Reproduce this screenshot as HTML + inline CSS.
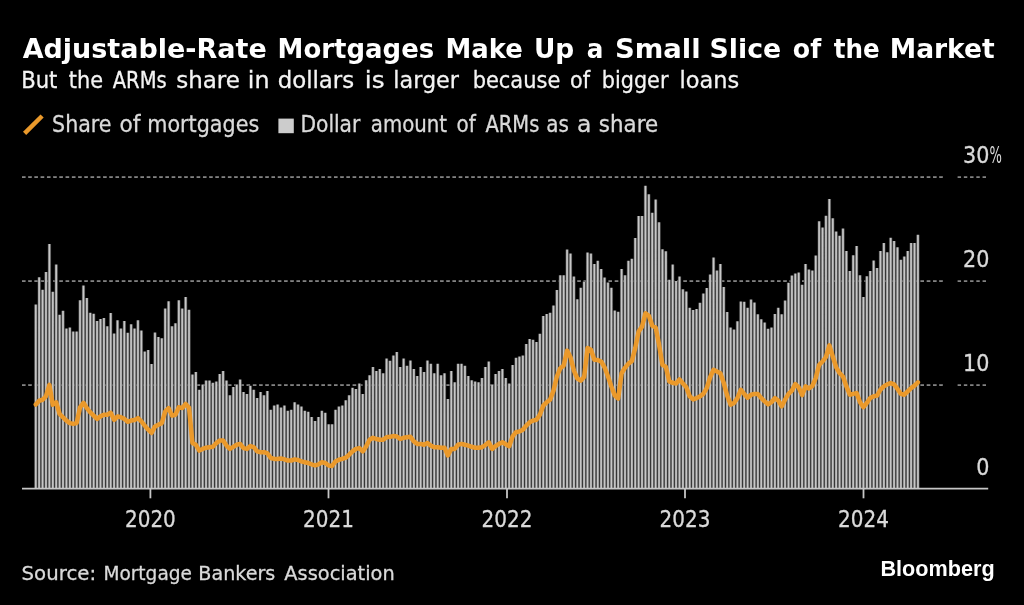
<!DOCTYPE html>
<html><head><meta charset="utf-8"><title>Adjustable-Rate Mortgages Make Up a Small Slice of the Market</title>
<style>
html,body{margin:0;padding:0;background:#000;}
body{width:1024px;height:605px;position:relative;overflow:hidden;}
svg{position:absolute;left:0;top:0;display:block;}
text{white-space:pre;}
.soft{display:none;isolation:isolate;}
.soft use{mix-blend-mode:plus-lighter;}
@supports (mix-blend-mode:plus-lighter){.plain{display:none;}.soft{display:inline;}}
</style></head><body>
<svg width="1024" height="605" viewBox="0 0 1024 605">
<line x1="22" x2="943.5" y1="177.05" y2="177.05" stroke="#838383" stroke-width="1.7" stroke-dasharray="3.44 2.8"/>
<line x1="957.6" x2="987" y1="177.05" y2="177.05" stroke="#838383" stroke-width="1.7" stroke-dasharray="3.44 2.8"/>
<line x1="22" x2="943.5" y1="281.05" y2="281.05" stroke="#838383" stroke-width="1.7" stroke-dasharray="3.44 2.8"/>
<line x1="957.6" x2="987" y1="281.05" y2="281.05" stroke="#838383" stroke-width="1.7" stroke-dasharray="3.44 2.8"/>
<line x1="22" x2="943.5" y1="385.05" y2="385.05" stroke="#838383" stroke-width="1.7" stroke-dasharray="3.44 2.8"/>
<line x1="957.6" x2="987" y1="385.05" y2="385.05" stroke="#838383" stroke-width="1.7" stroke-dasharray="3.44 2.8"/>
<defs><path id="bars" d="M34.62 488.6V304.5h2.3V488.6zM38.03 488.6V277.3h2.3V488.6zM41.43 488.6V289.8h2.3V488.6zM44.84 488.6V272.0h2.3V488.6zM48.24 488.6V244.1h2.3V488.6zM51.65 488.6V291.8h2.3V488.6zM55.06 488.6V264.6h2.3V488.6zM58.46 488.6V314.8h2.3V488.6zM61.87 488.6V310.7h2.3V488.6zM65.27 488.6V328.5h2.3V488.6zM68.68 488.6V327.4h2.3V488.6zM72.09 488.6V331.5h2.3V488.6zM75.49 488.6V331.5h2.3V488.6zM78.90 488.6V300.3h2.3V488.6zM82.30 488.6V285.6h2.3V488.6zM85.71 488.6V298.0h2.3V488.6zM89.12 488.6V312.8h2.3V488.6zM92.52 488.6V313.8h2.3V488.6zM95.93 488.6V321.0h2.3V488.6zM99.33 488.6V319.0h2.3V488.6zM102.74 488.6V317.9h2.3V488.6zM106.15 488.6V326.2h2.3V488.6zM109.55 488.6V312.9h2.3V488.6zM112.96 488.6V333.5h2.3V488.6zM116.36 488.6V320.2h2.3V488.6zM119.77 488.6V328.5h2.3V488.6zM123.18 488.6V321.0h2.3V488.6zM126.58 488.6V332.7h2.3V488.6zM129.99 488.6V324.2h2.3V488.6zM133.39 488.6V328.5h2.3V488.6zM136.80 488.6V320.2h2.3V488.6zM140.21 488.6V330.4h2.3V488.6zM143.61 488.6V351.5h2.3V488.6zM147.02 488.6V350.1h2.3V488.6zM150.42 488.6V363.9h2.3V488.6zM153.83 488.6V332.5h2.3V488.6zM157.24 488.6V337.0h2.3V488.6zM160.64 488.6V338.2h2.3V488.6zM164.05 488.6V308.6h2.3V488.6zM167.45 488.6V301.3h2.3V488.6zM170.86 488.6V326.2h2.3V488.6zM174.27 488.6V323.2h2.3V488.6zM177.67 488.6V300.3h2.3V488.6zM181.08 488.6V308.6h2.3V488.6zM184.48 488.6V297.1h2.3V488.6zM187.89 488.6V309.8h2.3V488.6zM191.30 488.6V374.4h2.3V488.6zM194.70 488.6V372.1h2.3V488.6zM198.11 488.6V389.8h2.3V488.6zM201.51 488.6V384.5h2.3V488.6zM204.92 488.6V380.4h2.3V488.6zM208.33 488.6V380.4h2.3V488.6zM211.73 488.6V382.7h2.3V488.6zM215.14 488.6V381.5h2.3V488.6zM218.54 488.6V374.1h2.3V488.6zM221.95 488.6V371.1h2.3V488.6zM225.36 488.6V380.4h2.3V488.6zM228.76 488.6V395.2h2.3V488.6zM232.17 488.6V386.9h2.3V488.6zM235.57 488.6V384.5h2.3V488.6zM238.98 488.6V379.4h2.3V488.6zM242.39 488.6V392.0h2.3V488.6zM245.79 488.6V394.0h2.3V488.6zM249.20 488.6V385.7h2.3V488.6zM252.60 488.6V389.8h2.3V488.6zM256.01 488.6V398.1h2.3V488.6zM259.42 488.6V392.0h2.3V488.6zM262.82 488.6V395.2h2.3V488.6zM266.23 488.6V391.0h2.3V488.6zM269.63 488.6V409.8h2.3V488.6zM273.04 488.6V405.6h2.3V488.6zM276.45 488.6V404.4h2.3V488.6zM279.85 488.6V407.6h2.3V488.6zM283.26 488.6V405.6h2.3V488.6zM286.66 488.6V410.8h2.3V488.6zM290.07 488.6V409.8h2.3V488.6zM293.48 488.6V402.3h2.3V488.6zM296.88 488.6V404.4h2.3V488.6zM300.29 488.6V406.6h2.3V488.6zM303.69 488.6V410.8h2.3V488.6zM307.10 488.6V411.8h2.3V488.6zM310.51 488.6V416.9h2.3V488.6zM313.91 488.6V421.0h2.3V488.6zM317.32 488.6V416.9h2.3V488.6zM320.72 488.6V410.8h2.3V488.6zM324.13 488.6V412.7h2.3V488.6zM327.54 488.6V424.2h2.3V488.6zM330.94 488.6V424.2h2.3V488.6zM334.35 488.6V409.8h2.3V488.6zM337.75 488.6V406.6h2.3V488.6zM341.16 488.6V405.6h2.3V488.6zM344.57 488.6V400.3h2.3V488.6zM347.97 488.6V395.2h2.3V488.6zM351.38 488.6V387.8h2.3V488.6zM354.78 488.6V388.9h2.3V488.6zM358.19 488.6V383.6h2.3V488.6zM361.60 488.6V393.9h2.3V488.6zM365.00 488.6V380.3h2.3V488.6zM368.41 488.6V375.2h2.3V488.6zM371.81 488.6V366.9h2.3V488.6zM375.22 488.6V371.0h2.3V488.6zM378.63 488.6V369.0h2.3V488.6zM382.03 488.6V373.2h2.3V488.6zM385.44 488.6V358.6h2.3V488.6zM388.84 488.6V360.7h2.3V488.6zM392.25 488.6V355.4h2.3V488.6zM395.66 488.6V352.1h2.3V488.6zM399.06 488.6V366.9h2.3V488.6zM402.47 488.6V358.6h2.3V488.6zM405.87 488.6V365.7h2.3V488.6zM409.28 488.6V360.4h2.3V488.6zM412.69 488.6V369.0h2.3V488.6zM416.09 488.6V376.1h2.3V488.6zM419.50 488.6V366.9h2.3V488.6zM422.90 488.6V372.0h2.3V488.6zM426.31 488.6V360.4h2.3V488.6zM429.72 488.6V363.7h2.3V488.6zM433.12 488.6V373.2h2.3V488.6zM436.53 488.6V363.7h2.3V488.6zM439.93 488.6V375.2h2.3V488.6zM443.34 488.6V373.2h2.3V488.6zM446.75 488.6V398.9h2.3V488.6zM450.15 488.6V371.0h2.3V488.6zM453.56 488.6V382.3h2.3V488.6zM456.96 488.6V363.7h2.3V488.6zM460.37 488.6V363.7h2.3V488.6zM463.78 488.6V365.7h2.3V488.6zM467.18 488.6V376.1h2.3V488.6zM470.59 488.6V380.3h2.3V488.6zM473.99 488.6V381.5h2.3V488.6zM477.40 488.6V382.3h2.3V488.6zM480.81 488.6V378.1h2.3V488.6zM484.21 488.6V366.9h2.3V488.6zM487.62 488.6V361.5h2.3V488.6zM491.02 488.6V384.4h2.3V488.6zM494.43 488.6V374.0h2.3V488.6zM497.84 488.6V371.0h2.3V488.6zM501.24 488.6V369.0h2.3V488.6zM504.65 488.6V378.1h2.3V488.6zM508.05 488.6V383.5h2.3V488.6zM511.46 488.6V365.1h2.3V488.6zM514.87 488.6V357.8h2.3V488.6zM518.27 488.6V356.6h2.3V488.6zM521.68 488.6V355.6h2.3V488.6zM525.08 488.6V344.0h2.3V488.6zM528.49 488.6V339.0h2.3V488.6zM531.90 488.6V339.8h2.3V488.6zM535.30 488.6V342.0h2.3V488.6zM538.71 488.6V333.7h2.3V488.6zM542.11 488.6V316.1h2.3V488.6zM545.52 488.6V314.0h2.3V488.6zM548.93 488.6V312.8h2.3V488.6zM552.33 488.6V305.5h2.3V488.6zM555.74 488.6V290.1h2.3V488.6zM559.14 488.6V275.3h2.3V488.6zM562.55 488.6V275.3h2.3V488.6zM565.96 488.6V249.4h2.3V488.6zM569.36 488.6V253.6h2.3V488.6zM572.77 488.6V276.5h2.3V488.6zM576.17 488.6V299.2h2.3V488.6zM579.58 488.6V287.7h2.3V488.6zM582.99 488.6V281.6h2.3V488.6zM586.39 488.6V252.4h2.3V488.6zM589.80 488.6V253.6h2.3V488.6zM593.20 488.6V264.0h2.3V488.6zM596.61 488.6V260.7h2.3V488.6zM600.02 488.6V269.0h2.3V488.6zM603.42 488.6V277.5h2.3V488.6zM606.83 488.6V282.6h2.3V488.6zM610.23 488.6V287.7h2.3V488.6zM613.64 488.6V310.6h2.3V488.6zM617.05 488.6V311.7h2.3V488.6zM620.45 488.6V269.0h2.3V488.6zM623.86 488.6V275.3h2.3V488.6zM627.26 488.6V260.7h2.3V488.6zM630.67 488.6V258.7h2.3V488.6zM634.08 488.6V237.9h2.3V488.6zM637.48 488.6V216.0h2.3V488.6zM640.89 488.6V216.0h2.3V488.6zM644.29 488.6V185.8h2.3V488.6zM647.70 488.6V194.2h2.3V488.6zM651.11 488.6V212.8h2.3V488.6zM654.51 488.6V199.4h2.3V488.6zM657.92 488.6V222.3h2.3V488.6zM661.32 488.6V249.3h2.3V488.6zM664.73 488.6V251.3h2.3V488.6zM668.14 488.6V279.8h2.3V488.6zM671.54 488.6V264.6h2.3V488.6zM674.95 488.6V281.0h2.3V488.6zM678.35 488.6V276.5h2.3V488.6zM681.76 488.6V289.3h2.3V488.6zM685.17 488.6V291.5h2.3V488.6zM688.57 488.6V307.7h2.3V488.6zM691.98 488.6V310.0h2.3V488.6zM695.38 488.6V308.9h2.3V488.6zM698.79 488.6V302.7h2.3V488.6zM702.20 488.6V293.5h2.3V488.6zM705.60 488.6V288.1h2.3V488.6zM709.01 488.6V274.5h2.3V488.6zM712.41 488.6V257.4h2.3V488.6zM715.82 488.6V270.4h2.3V488.6zM719.23 488.6V264.1h2.3V488.6zM722.63 488.6V287.0h2.3V488.6zM726.04 488.6V311.9h2.3V488.6zM729.44 488.6V327.5h2.3V488.6zM732.85 488.6V329.6h2.3V488.6zM736.26 488.6V321.3h2.3V488.6zM739.66 488.6V301.4h2.3V488.6zM743.07 488.6V301.8h2.3V488.6zM746.47 488.6V307.7h2.3V488.6zM749.88 488.6V299.4h2.3V488.6zM753.29 488.6V302.6h2.3V488.6zM756.69 488.6V314.2h2.3V488.6zM760.10 488.6V319.3h2.3V488.6zM763.50 488.6V322.5h2.3V488.6zM766.91 488.6V328.8h2.3V488.6zM770.32 488.6V327.6h2.3V488.6zM773.72 488.6V313.9h2.3V488.6zM777.13 488.6V307.7h2.3V488.6zM780.53 488.6V314.2h2.3V488.6zM783.94 488.6V300.6h2.3V488.6zM787.35 488.6V282.8h2.3V488.6zM790.75 488.6V275.4h2.3V488.6zM794.16 488.6V273.5h2.3V488.6zM797.56 488.6V272.4h2.3V488.6zM800.97 488.6V284.8h2.3V488.6zM804.38 488.6V264.1h2.3V488.6zM807.78 488.6V269.4h2.3V488.6zM811.19 488.6V270.4h2.3V488.6zM814.59 488.6V255.4h2.3V488.6zM818.00 488.6V221.2h2.3V488.6zM821.41 488.6V227.4h2.3V488.6zM824.81 488.6V215.7h2.3V488.6zM828.22 488.6V199.1h2.3V488.6zM831.62 488.6V218.2h2.3V488.6zM835.03 488.6V231.5h2.3V488.6zM838.44 488.6V235.7h2.3V488.6zM841.84 488.6V228.5h2.3V488.6zM845.25 488.6V251.1h2.3V488.6zM848.65 488.6V271.0h2.3V488.6zM852.06 488.6V255.2h2.3V488.6zM855.47 488.6V246.1h2.3V488.6zM858.87 488.6V275.2h2.3V488.6zM862.28 488.6V296.9h2.3V488.6zM865.68 488.6V276.3h2.3V488.6zM869.09 488.6V271.0h2.3V488.6zM872.50 488.6V260.6h2.3V488.6zM875.90 488.6V268.0h2.3V488.6zM879.31 488.6V251.1h2.3V488.6zM882.71 488.6V243.1h2.3V488.6zM886.12 488.6V252.3h2.3V488.6zM889.53 488.6V237.8h2.3V488.6zM892.93 488.6V241.0h2.3V488.6zM896.34 488.6V247.3h2.3V488.6zM899.74 488.6V259.7h2.3V488.6zM903.15 488.6V256.4h2.3V488.6zM906.56 488.6V251.1h2.3V488.6zM909.96 488.6V243.1h2.3V488.6zM913.37 488.6V243.1h2.3V488.6zM916.77 488.6V234.7h2.3V488.6z"/></defs>
<use class="plain" href="#bars" fill="#c4c4c4"/>
<g class="soft">
<use href="#bars" x="-0.860" fill="rgb(11,11,11)"/>
<use href="#bars" x="-0.430" fill="rgb(50,50,50)"/>
<use href="#bars" x="0.000" fill="rgb(83,83,83)"/>
<use href="#bars" x="0.430" fill="rgb(50,50,50)"/>
<use href="#bars" x="0.860" fill="rgb(11,11,11)"/>
</g>
<line x1="22" x2="943.5" y1="177.05" y2="177.05" stroke="#6a6a6a" stroke-width="1.7" stroke-dasharray="3.44 2.8" style="mix-blend-mode:lighten"/>
<line x1="22" x2="943.5" y1="281.05" y2="281.05" stroke="#6a6a6a" stroke-width="1.7" stroke-dasharray="3.44 2.8" style="mix-blend-mode:lighten"/>
<line x1="22" x2="943.5" y1="385.05" y2="385.05" stroke="#6a6a6a" stroke-width="1.7" stroke-dasharray="3.44 2.8" style="mix-blend-mode:lighten"/>
<line x1="22" x2="988.2" y1="488.70000000000005" y2="488.70000000000005" stroke="#c6c6c6" stroke-width="1.8"/>
<line x1="150.4" x2="150.4" y1="488.6" y2="498.3" stroke="#c6c6c6" stroke-width="1.8"/>
<line x1="328.5" x2="328.5" y1="488.6" y2="498.3" stroke="#c6c6c6" stroke-width="1.8"/>
<line x1="507" x2="507" y1="488.6" y2="498.3" stroke="#c6c6c6" stroke-width="1.8"/>
<line x1="685" x2="685" y1="488.6" y2="498.3" stroke="#c6c6c6" stroke-width="1.8"/>
<line x1="863.5" x2="863.5" y1="488.6" y2="498.3" stroke="#c6c6c6" stroke-width="1.8"/>
<polyline points="35.77,404.5 39.18,400.7 42.58,399.8 45.99,396.2 49.39,384.9 52.80,404.8 56.21,402.3 59.61,414.0 63.02,417.3 66.42,420.6 69.83,423.1 73.24,423.9 76.64,423.1 80.05,407.3 83.45,402.8 86.86,408.1 90.27,412.3 93.67,415.6 97.08,418.9 100.48,416.4 103.89,414.8 107.30,414.8 110.70,412.8 114.11,419.8 117.51,416.4 120.92,417.3 124.33,418.9 127.73,421.8 131.14,420.6 134.54,420.1 137.95,418.1 141.36,421.4 144.76,425.6 148.17,429.7 151.57,433.0 154.98,426.4 158.39,424.7 161.79,423.1 165.20,411.5 168.60,408.1 172.01,415.6 175.42,414.8 178.82,407.3 182.23,408.1 185.63,404.0 189.04,407.8 192.45,443.1 195.85,444.8 199.26,450.6 202.66,448.9 206.07,447.7 209.48,447.2 212.88,446.8 216.29,443.1 219.69,440.6 223.10,440.6 226.51,445.6 229.91,448.9 233.32,446.8 236.72,444.8 240.13,443.9 243.54,448.1 246.94,448.9 250.35,446.1 253.75,447.2 257.16,451.4 260.57,452.2 263.97,452.2 267.38,453.4 270.78,458.0 274.19,458.9 277.60,458.9 281.00,458.4 284.41,459.4 287.81,460.5 291.22,460.5 294.63,459.4 298.03,460.0 301.44,461.4 304.84,462.2 308.25,463.0 311.66,464.3 315.06,465.5 318.47,464.3 321.87,462.2 325.28,463.0 328.69,465.5 332.09,466.0 335.50,461.4 338.90,459.7 342.31,458.9 345.72,457.7 349.12,454.7 352.53,451.4 355.93,448.9 359.34,448.1 362.75,451.4 366.15,446.4 369.56,439.8 372.96,437.8 376.37,439.0 379.78,439.8 383.18,439.8 386.59,437.3 389.99,436.8 393.40,436.1 396.81,436.5 400.21,439.0 403.62,437.8 407.02,437.3 410.43,436.8 413.84,441.4 417.24,443.9 420.65,443.9 424.05,444.8 427.46,443.1 430.87,445.6 434.27,447.2 437.68,447.2 441.08,447.7 444.49,447.7 447.90,455.5 451.30,448.9 454.71,448.9 458.11,444.8 461.52,443.9 464.93,444.8 468.33,445.6 471.74,446.8 475.14,447.7 478.55,447.7 481.96,447.2 485.36,445.1 488.77,442.3 492.17,448.9 495.58,446.1 498.99,443.9 502.39,442.3 505.80,444.3 509.20,446.2 512.61,436.4 516.02,432.2 519.42,431.4 522.83,429.7 526.23,425.6 529.64,422.3 533.05,420.6 536.45,419.8 539.86,414.8 543.26,405.7 546.67,402.3 550.08,399.8 553.48,390.6 556.89,376.5 560.29,368.2 563.70,365.6 567.11,350.6 570.51,357.3 573.92,370.6 577.32,378.5 580.73,380.6 584.14,377.0 587.54,348.1 590.95,349.8 594.35,359.8 597.76,360.1 601.17,361.5 604.57,367.3 607.98,376.5 611.38,386.5 614.79,395.6 618.20,398.5 621.60,373.2 625.01,367.8 628.41,363.6 631.82,361.1 635.23,348.1 638.63,331.5 642.04,326.6 645.44,313.3 648.85,315.8 652.26,325.7 655.66,327.4 659.07,344.8 662.47,364.8 665.88,366.9 669.29,381.4 672.69,382.8 676.10,383.5 679.50,379.5 682.91,383.5 686.32,387.3 689.72,396.4 693.13,399.4 696.53,398.1 699.94,396.4 703.35,393.9 706.75,388.1 710.16,377.3 713.56,369.8 716.97,371.5 720.38,373.2 723.78,383.1 727.19,395.6 730.59,404.7 734.00,403.0 737.41,398.1 740.81,389.8 744.22,393.9 747.62,397.7 751.03,394.7 754.44,393.9 757.84,393.9 761.25,398.1 764.65,401.4 768.06,404.4 771.47,402.2 774.87,398.1 778.28,400.6 781.68,406.4 785.09,399.7 788.50,393.9 791.90,390.6 795.31,384.0 798.71,387.3 802.12,395.2 805.53,386.4 808.93,388.5 812.34,386.0 815.74,378.1 819.15,364.8 822.56,361.5 825.96,357.0 829.37,345.4 832.77,356.5 836.18,367.3 839.59,373.1 842.99,376.5 846.40,386.4 849.80,394.7 853.21,393.9 856.62,393.1 860.02,402.2 863.43,407.2 866.83,403.0 870.24,398.0 873.65,396.4 877.05,395.6 880.46,389.7 883.86,386.4 887.27,384.4 890.68,383.1 894.08,384.4 897.49,388.9 900.89,393.9 904.30,394.7 907.71,391.4 911.11,388.1 914.52,385.6 917.92,382.3" fill="none" stroke="#ea992b" stroke-width="4.5" stroke-linejoin="round" stroke-linecap="round"/>
<line x1="24.6" y1="133.4" x2="42.1" y2="116" stroke="#ea992b" stroke-width="4.5"/>
<rect x="278.4" y="118.6" width="15.4" height="14.6" fill="#cccccc"/>
<text y="58.2" font-family="'DejaVu Sans', 'Liberation Sans', sans-serif" font-weight="bold" font-size="26.9" fill="#ffffff"><tspan x="22.65" textLength="244.11" lengthAdjust="spacingAndGlyphs">Adjustable-Rate</tspan><tspan> </tspan><tspan x="277.59" textLength="156.62" lengthAdjust="spacingAndGlyphs">Mortgages</tspan><tspan> </tspan><tspan x="445.49" textLength="77.37" lengthAdjust="spacingAndGlyphs">Make</tspan><tspan> </tspan><tspan x="533.95" textLength="40.33" lengthAdjust="spacingAndGlyphs">Up</tspan><tspan> </tspan><tspan x="586.76" textLength="16.62" lengthAdjust="spacingAndGlyphs">a</tspan><tspan> </tspan><tspan x="614.96" textLength="85.71" lengthAdjust="spacingAndGlyphs">Small</tspan><tspan> </tspan><tspan x="709.51" textLength="71.72" lengthAdjust="spacingAndGlyphs">Slice</tspan><tspan> </tspan><tspan x="792.82" textLength="28.38" lengthAdjust="spacingAndGlyphs">of</tspan><tspan> </tspan><tspan x="833.67" textLength="45.97" lengthAdjust="spacingAndGlyphs">the</tspan><tspan> </tspan><tspan x="889.73" textLength="105.03" lengthAdjust="spacingAndGlyphs">Market</tspan></text>
<text y="88.0" font-family="'DejaVu Sans', 'Liberation Sans', sans-serif" font-weight="normal" font-size="23.0" fill="#f4f4f4" stroke="#f4f4f4" stroke-width="0.3"><tspan x="21.13" textLength="36.21" lengthAdjust="spacingAndGlyphs">But</tspan><tspan> </tspan><tspan x="68.85" textLength="34.29" lengthAdjust="spacingAndGlyphs">the</tspan><tspan> </tspan><tspan x="112.69" textLength="54.0" lengthAdjust="spacingAndGlyphs">ARMs</tspan><tspan> </tspan><tspan x="176.25" textLength="63.71" lengthAdjust="spacingAndGlyphs">share</tspan><tspan> </tspan><tspan x="247.88" textLength="21.66" lengthAdjust="spacingAndGlyphs">in</tspan><tspan> </tspan><tspan x="277.66" textLength="76.54" lengthAdjust="spacingAndGlyphs">dollars</tspan><tspan> </tspan><tspan x="364.88" textLength="19.72" lengthAdjust="spacingAndGlyphs">is</tspan><tspan> </tspan><tspan x="393.32" textLength="65.68" lengthAdjust="spacingAndGlyphs">larger</tspan><tspan> </tspan><tspan x="472.68" textLength="87.62" lengthAdjust="spacingAndGlyphs">because</tspan><tspan> </tspan><tspan x="569.97" textLength="20.01" lengthAdjust="spacingAndGlyphs">of</tspan><tspan> </tspan><tspan x="601.79" textLength="66.65" lengthAdjust="spacingAndGlyphs">bigger</tspan><tspan> </tspan><tspan x="679.5" textLength="59.7" lengthAdjust="spacingAndGlyphs">loans</tspan></text>
<text y="132.0" font-family="'DejaVu Sans Condensed', 'DejaVu Sans', 'Liberation Sans', sans-serif" font-weight="normal" font-size="23.0" fill="#dadada" stroke="#dadada" stroke-width="0.3"><tspan x="52.06" textLength="59.41" lengthAdjust="spacingAndGlyphs">Share</tspan><tspan> </tspan><tspan x="119.55" textLength="20.96" lengthAdjust="spacingAndGlyphs">of</tspan><tspan> </tspan><tspan x="147.25" textLength="111.96" lengthAdjust="spacingAndGlyphs">mortgages</tspan></text>
<text y="132.0" font-family="'DejaVu Sans Condensed', 'DejaVu Sans', 'Liberation Sans', sans-serif" font-weight="normal" font-size="23.0" fill="#dadada" stroke="#dadada" stroke-width="0.3"><tspan x="300.45" textLength="59.88" lengthAdjust="spacingAndGlyphs">Dollar</tspan><tspan> </tspan><tspan x="370.81" textLength="76.32" lengthAdjust="spacingAndGlyphs">amount</tspan><tspan> </tspan><tspan x="456.44" textLength="19.22" lengthAdjust="spacingAndGlyphs">of</tspan><tspan> </tspan><tspan x="485.46" textLength="53.9" lengthAdjust="spacingAndGlyphs">ARMs</tspan><tspan> </tspan><tspan x="546.29" textLength="22.64" lengthAdjust="spacingAndGlyphs">as</tspan><tspan> </tspan><tspan x="577.08" textLength="14.42" lengthAdjust="spacingAndGlyphs">a</tspan><tspan> </tspan><tspan x="598.87" textLength="59.23" lengthAdjust="spacingAndGlyphs">share</tspan></text>
<text y="579.5" font-family="'DejaVu Sans', 'Liberation Sans', sans-serif" font-weight="normal" font-size="19.8" fill="#dadada" stroke="#dadada" stroke-width="0.3"><tspan x="21.55" textLength="74.5" lengthAdjust="spacingAndGlyphs">Source:</tspan><tspan> </tspan><tspan x="103.43" textLength="88.48" lengthAdjust="spacingAndGlyphs">Mortgage</tspan><tspan> </tspan><tspan x="198.37" textLength="76.95" lengthAdjust="spacingAndGlyphs">Bankers</tspan><tspan> </tspan><tspan x="284.36" textLength="110.35" lengthAdjust="spacingAndGlyphs">Association</tspan></text>
<text y="576.3" font-family="'Liberation Sans', 'DejaVu Sans', sans-serif" font-weight="bold" font-size="22.5" fill="#ffffff"><tspan x="880.46" textLength="114.2" lengthAdjust="spacingAndGlyphs">Bloomberg</tspan></text>
<text x="989.3" y="266.9" text-anchor="end" font-family="'DejaVu Sans Condensed', 'DejaVu Sans', 'Liberation Sans', sans-serif" font-size="23.0" fill="#dadada" stroke="#dadada" stroke-width="0.3">20</text>
<text x="989.3" y="370.9" text-anchor="end" font-family="'DejaVu Sans Condensed', 'DejaVu Sans', 'Liberation Sans', sans-serif" font-size="23.0" fill="#dadada" stroke="#dadada" stroke-width="0.3">10</text>
<text x="989.3" y="474.6" text-anchor="end" font-family="'DejaVu Sans Condensed', 'DejaVu Sans', 'Liberation Sans', sans-serif" font-size="23.0" fill="#dadada" stroke="#dadada" stroke-width="0.3">0</text>
<text x="989.3" y="162.6" text-anchor="end" font-family="'DejaVu Sans Condensed', 'DejaVu Sans', 'Liberation Sans', sans-serif" font-size="23.0" fill="#dadada" stroke="#dadada" stroke-width="0.3">30</text>
<text x="989.6" y="162.6" font-family="'DejaVu Sans Condensed', 'DejaVu Sans', 'Liberation Sans', sans-serif" font-size="22.5" fill="#dadada" textLength="12.4" lengthAdjust="spacingAndGlyphs">%</text>
<text x="150.4" y="527.4" text-anchor="middle" font-family="'DejaVu Sans Condensed', 'DejaVu Sans', 'Liberation Sans', sans-serif" font-size="22.2" fill="#dadada" stroke="#dadada" stroke-width="0.3">2020</text>
<text x="328.5" y="527.4" text-anchor="middle" font-family="'DejaVu Sans Condensed', 'DejaVu Sans', 'Liberation Sans', sans-serif" font-size="22.2" fill="#dadada" stroke="#dadada" stroke-width="0.3">2021</text>
<text x="507" y="527.4" text-anchor="middle" font-family="'DejaVu Sans Condensed', 'DejaVu Sans', 'Liberation Sans', sans-serif" font-size="22.2" fill="#dadada" stroke="#dadada" stroke-width="0.3">2022</text>
<text x="685" y="527.4" text-anchor="middle" font-family="'DejaVu Sans Condensed', 'DejaVu Sans', 'Liberation Sans', sans-serif" font-size="22.2" fill="#dadada" stroke="#dadada" stroke-width="0.3">2023</text>
<text x="863.5" y="527.4" text-anchor="middle" font-family="'DejaVu Sans Condensed', 'DejaVu Sans', 'Liberation Sans', sans-serif" font-size="22.2" fill="#dadada" stroke="#dadada" stroke-width="0.3">2024</text>
</svg>
</body></html>
